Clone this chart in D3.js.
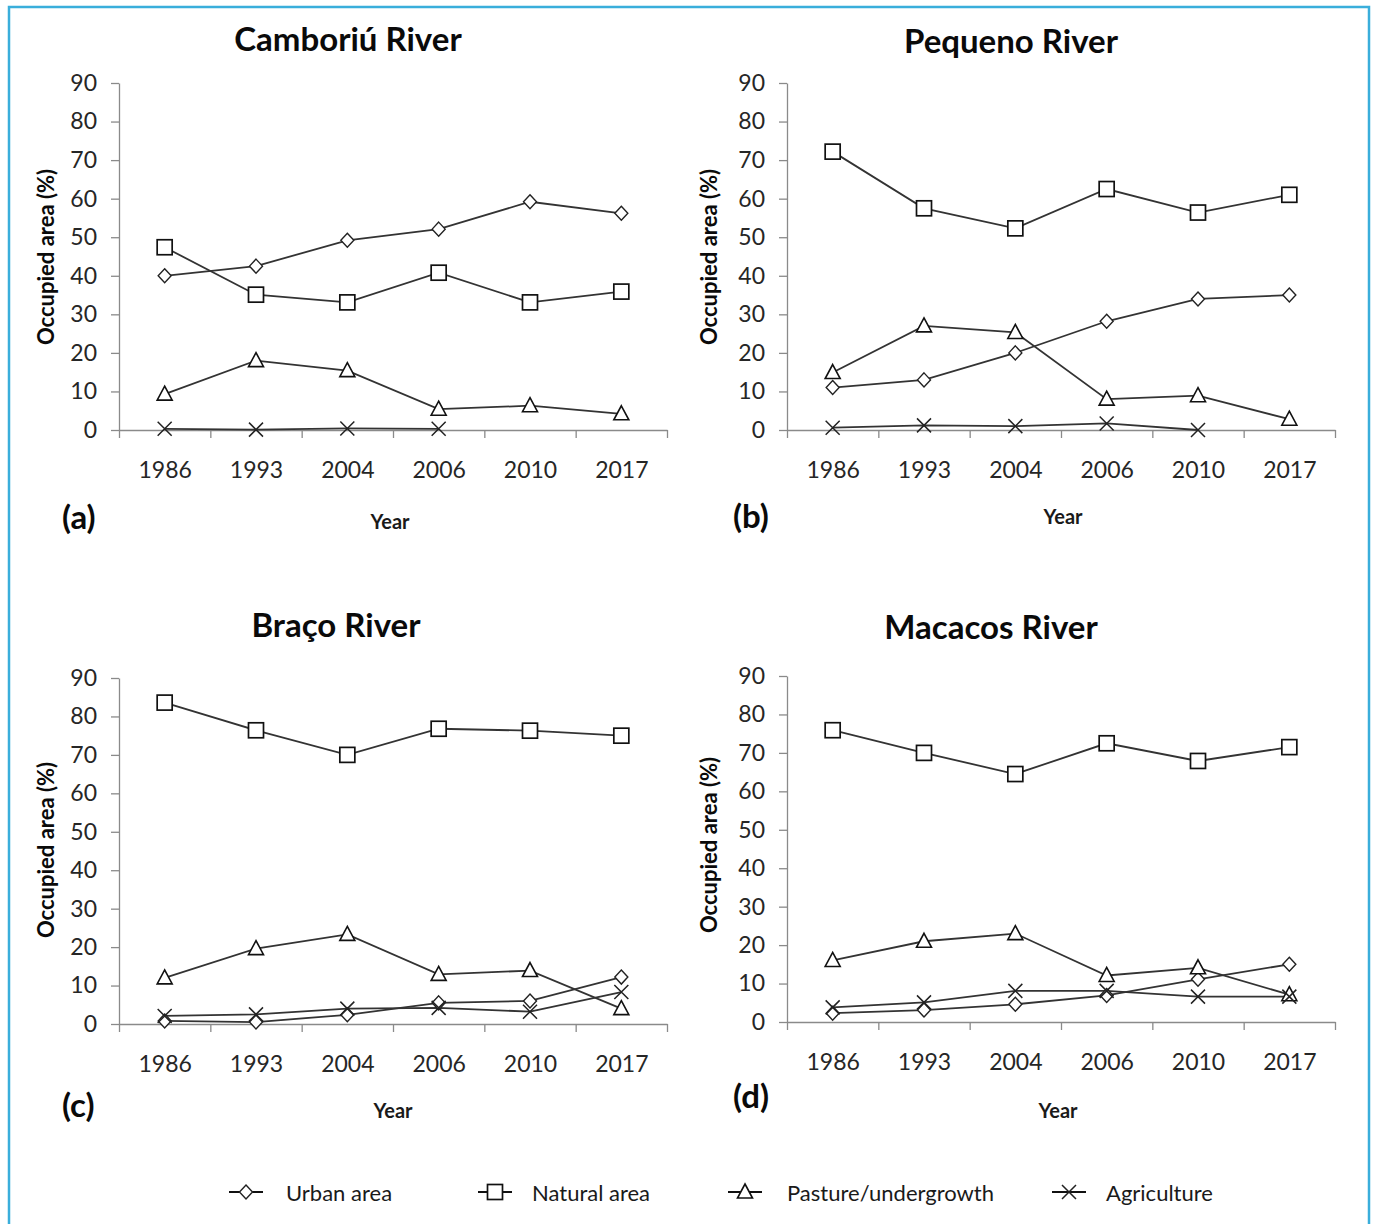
<!DOCTYPE html>
<html>
<head>
<meta charset="utf-8">
<title>Occupied area by land use, four rivers</title>
<script src="https://d3js.org/d3.v7.min.js"></script>
<style>
  body { margin: 0; background: #fff; }
  text { font-family: Lato, "Open Sans", sans-serif; }
</style>
</head>
<body>
<script>
// ---- data ----
var years = ["1986", "1993", "2004", "2006", "2010", "2017"];
var rivers = ["Camboriú River", "Pequeno River", "Braço River", "Macacos River"];
var panelTags = ["(a)", "(b)", "(c)", "(d)"];
var seriesNames = ["Urban area", "Natural area", "Pasture/undergrowth", "Agriculture"];
var yTicks = [0, 10, 20, 30, 40, 50, 60, 70, 80, 90];

// Camboriú River (a)
var camboriuUrban   = [40, 42.5, 49.2, 52.1, 59.2, 56.2];
var camboriuNatural = [47.4, 35.1, 33.1, 40.8, 33.1, 35.9];
var camboriuPasture = [9.3, 18, 15.4, 5.4, 6.3, 4.2];
var camboriuAgri    = [0.3, 0.1, 0.4, 0.3, null, null];
// Pequeno River (b)
var pequenoUrban   = [11, 13, 20, 28.2, 34, 35];
var pequenoNatural = [72.2, 57.5, 52.3, 62.5, 56.4, 61];
var pequenoPasture = [14.9, 27, 25.3, 8, 8.9, 2.8];
var pequenoAgri    = [0.6, 1.2, 1, 1.7, 0, null];
// Braço River (c)
var bracoUrban   = [0.8, 0.5, 2.4, 5.5, 6, 12.2];
var bracoNatural = [83.6, 76.4, 70, 76.8, 76.3, 75];
var bracoPasture = [12, 19.6, 23.3, 12.9, 13.9, 4];
var bracoAgri    = [2.1, 2.5, 4, 4.2, 3.2, 8.3];
// Macacos River (d)
var macacosUrban   = [2.3, 3.1, 4.6, 6.9, 11.1, 15];
var macacosNatural = [75.9, 70, 64.5, 72.5, 67.9, 71.5];
var macacosPasture = [16, 21, 23, 12.1, 14.1, 7.1];
var macacosAgri    = [3.8, 5.1, 8.1, 8.1, 6.6, 6.6];

var panelSeries = [
  [camboriuUrban, camboriuNatural, camboriuPasture, camboriuAgri],
  [pequenoUrban, pequenoNatural, pequenoPasture, pequenoAgri],
  [bracoUrban, bracoNatural, bracoPasture, bracoAgri],
  [macacosUrban, macacosNatural, macacosPasture, macacosAgri]
];
var markerKinds = ["diamond", "square", "triangle", "cross"];

// ---- layout ----
var W = 1375, H = 1224;
var panels = [
  {left: 119, right: 667,  top: 83,  bottom: 430,  title: [348, 38],   year: [390, 521],  tag: [62, 516],  ylab: [45, 257]},
  {left: 787, right: 1335, top: 83,  bottom: 430,  title: [1011, 40],  year: [1063, 516], tag: [733, 515], ylab: [708, 257]},
  {left: 119, right: 667,  top: 678, bottom: 1024, title: [336, 624],  year: [393, 1110], tag: [62, 1104], ylab: [45, 850]},
  {left: 787, right: 1335, top: 676, bottom: 1022, title: [991, 626],  year: [1058, 1110], tag: [733, 1095], ylab: [708, 845]}
];

var svg = d3.select("body").append("svg")
    .attr("width", W).attr("height", H);

// outer frame
svg.append("rect")
    .attr("x", 9).attr("y", 7)
    .attr("width", 1360).attr("height", H + 20)
    .attr("fill", "none")
    .attr("stroke", "#3aaedb")
    .attr("stroke-width", 2.5);

function drawMarker(g, kind, x, y) {
  if (kind == "square") {
    g.append("rect").attr("x", x - 7.5).attr("y", y - 7.5)
      .attr("width", 15).attr("height", 15)
      .attr("fill", "#fff").attr("stroke", "#111").attr("stroke-width", 1.7);
  } else if (kind == "diamond") {
    g.append("path")
      .attr("d", "M" + x + "," + (y - 7) + "L" + (x + 6.5) + "," + y + "L" + x + "," + (y + 7) + "L" + (x - 6.5) + "," + y + "Z")
      .attr("fill", "#fff").attr("stroke", "#222").attr("stroke-width", 1.4);
  } else if (kind == "triangle") {
    g.append("path")
      .attr("d", "M" + x + "," + (y - 8) + "L" + (x + 7.5) + "," + (y + 6) + "L" + (x - 7.5) + "," + (y + 6) + "Z")
      .attr("fill", "#fff").attr("stroke", "#111").attr("stroke-width", 1.6);
  } else {
    g.append("path")
      .attr("d", "M" + (x - 7) + "," + (y - 7) + "L" + (x + 7) + "," + (y + 7) + "M" + (x + 7) + "," + (y - 7) + "L" + (x - 7) + "," + (y + 7))
      .attr("fill", "none").attr("stroke", "#222").attr("stroke-width", 1.5);
  }
}

panels.forEach(function(p, pi) {
  var g = svg.append("g");

  var x = d3.scalePoint().domain(years)
      .range([p.left, p.right]).padding(0.5);
  var xEdge = d3.scaleLinear().domain([0, years.length]).range([p.left, p.right]);
  var y = d3.scaleLinear().domain([0, 90]).range([p.bottom, p.top]);

  // y axis
  var ya = g.append("g")
      .attr("transform", "translate(" + p.left + ",0)")
      .call(d3.axisLeft(y).tickValues(yTicks).tickSize(8).tickSizeOuter(0).tickPadding(14));
  ya.selectAll("line,path").attr("stroke", "#8a8a8a").attr("stroke-width", 1.3);
  ya.selectAll("text").attr("font-size", 23).attr("fill", "#262626")
      .style("font-family", "Lato, sans-serif");

  // x axis: ticks on the category edges, labels under the points
  var xe = g.append("g")
      .attr("transform", "translate(0," + p.bottom + ")")
      .call(d3.axisBottom(xEdge).tickValues(d3.range(0, years.length + 1)).tickFormat("").tickSize(8).tickSizeOuter(0));
  xe.selectAll("line,path").attr("stroke", "#8a8a8a").attr("stroke-width", 1.3);

  var xl = g.append("g")
      .attr("transform", "translate(0," + p.bottom + ")")
      .call(d3.axisBottom(x).tickSize(0).tickPadding(32));
  xl.select(".domain").remove();
  xl.selectAll("text").attr("font-size", 23).attr("fill", "#262626")
      .style("font-family", "Lato, sans-serif");

  // lines
  var line = d3.line()
      .defined(function(d) { return d != null; })
      .x(function(d, i) { return x(years[i]); })
      .y(function(d) { return y(d); });

  panelSeries[pi].forEach(function(vals, si) {
    g.append("path")
      .attr("d", line(vals))
      .attr("fill", "none")
      .attr("stroke", "#333")
      .attr("stroke-width", 1.8);
  });
  panelSeries[pi].forEach(function(vals, si) {
    vals.forEach(function(v, i) {
      if (v == null) return;
      drawMarker(g, markerKinds[si], x(years[i]), y(v));
    });
  });

  // texts
  g.append("text")
      .attr("x", p.title[0]).attr("y", p.title[1])
      .attr("text-anchor", "middle").attr("dominant-baseline", "central")
      .attr("font-size", 33).attr("font-weight", "bold").attr("fill", "#0a0a0a")
      .text(rivers[pi]);
  g.append("text")
      .attr("x", p.year[0]).attr("y", p.year[1])
      .attr("text-anchor", "middle").attr("dominant-baseline", "central")
      .attr("font-size", 20).attr("font-weight", "bold").attr("fill", "#1a1a1a")
      .text("Year");
  g.append("text")
      .attr("x", p.tag[0]).attr("y", p.tag[1])
      .attr("dominant-baseline", "central")
      .attr("font-size", 33).attr("font-weight", "bold").attr("fill", "#0a0a0a")
      .text(panelTags[pi]);
  g.append("text")
      .attr("transform", "translate(" + p.ylab[0] + "," + p.ylab[1] + ") rotate(-90)")
      .attr("text-anchor", "middle").attr("dominant-baseline", "central")
      .attr("font-size", 22).attr("font-weight", "bold").attr("fill", "#0a0a0a")
      .text("Occupied area (%)");
});

// legend
var legendX = [229, 478, 728, 1052];
var textX = [286, 532, 787, 1106];
var legendY = 1192;
seriesNames.forEach(function(name, i) {
  var lg = svg.append("g");
  lg.append("line")
      .attr("x1", legendX[i]).attr("x2", legendX[i] + 34)
      .attr("y1", legendY).attr("y2", legendY)
      .attr("stroke", "#111").attr("stroke-width", 1.8);
  drawMarker(lg, markerKinds[i], legendX[i] + 17, legendY);
  lg.append("text")
      .attr("x", textX[i]).attr("y", legendY)
      .attr("dominant-baseline", "central")
      .attr("font-size", 22).attr("fill", "#1a1a1a")
      .text(name);
});
</script>
</body>
</html>
